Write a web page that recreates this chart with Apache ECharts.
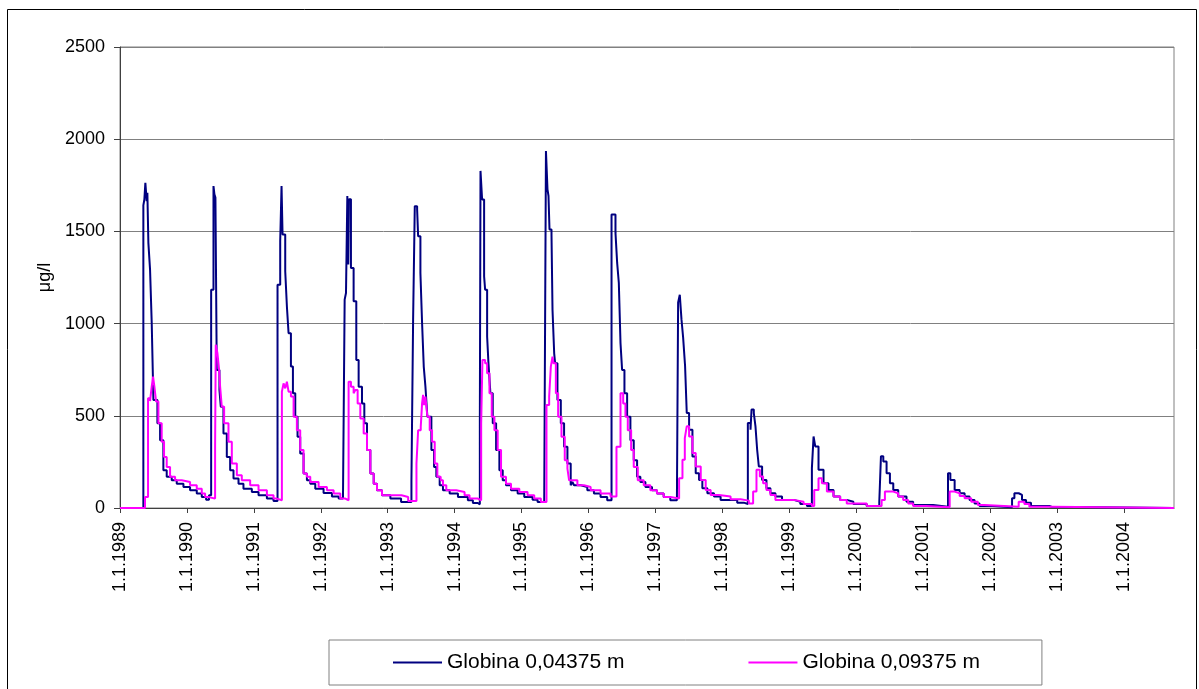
<!DOCTYPE html>
<html>
<head>
<meta charset="utf-8">
<script src="https://cdn.jsdelivr.net/npm/echarts@6/dist/echarts.min.js"></script>
<style>
html,body{margin:0;padding:0;background:#fff;}
#chart{width:1199px;height:689px;}
</style>
</head>
<body>
<div id="chart"></div>
<script>
// Decimal year, concentration (µg/l); each point = level starting at that date
const seriesNames = ['Globina 0,04375 m', 'Globina 0,09375 m'];
const yTicks = [0, 500, 1000, 1500, 2000, 2500];
const yearTicks = [1989,1990,1991,1992,1993,1994,1995,1996,1997,1998,1999,2000,2001,2002,2003,2004];

const depth04375 = [
[1989.000,0],[1989.349,1641],[1989.364,1673],[1989.379,1764],[1989.399,1664],[1989.409,1710],[1989.424,1438],[1989.449,1293],[1989.474,1003],[1989.499,586],[1989.559,459],[1989.599,368],[1989.648,205],[1989.698,169],[1989.773,150],[1989.848,132],[1989.948,114],[1990.047,96],[1990.147,78],[1990.222,60],[1990.287,45],[1990.330,69],
[1990.362,1184],[1990.397,1746],[1990.411,1701],[1990.426,1683],[1990.446,749],[1990.486,640],[1990.506,549],[1990.546,404],[1990.596,277],[1990.646,205],[1990.696,160],[1990.771,132],[1990.845,105],[1990.970,87],[1991.070,69],[1991.195,51],[1991.294,38],
[1991.354,1211],[1991.394,1447],[1991.414,1746],[1991.429,1483],[1991.469,1284],[1991.494,1093],[1991.519,948],[1991.554,767],[1991.584,622],[1991.619,495],[1991.653,386],[1991.693,296],[1991.743,187],[1991.793,150],[1991.843,132],[1991.918,105],[1992.042,82],[1992.167,63],[1992.267,51],[1992.332,42],
[1992.357,1130],[1992.377,1166],[1992.397,1692],[1992.411,1320],[1992.421,1674],[1992.451,1302],[1992.491,1121],[1992.531,803],[1992.566,658],[1992.616,567],[1992.651,459],[1992.691,314],[1992.741,187],[1992.791,132],[1992.840,96],[1992.915,69],[1993.040,51],[1993.200,33],
[1993.355,150],[1993.380,1021],[1993.405,1637],[1993.440,1619],[1993.455,1474],[1993.489,1275],[1993.514,1003],[1993.539,767],[1993.564,658],[1993.593,495],[1993.653,314],[1993.693,223],[1993.727,169],[1993.777,123],[1993.826,96],[1993.926,78],[1994.050,60],[1994.198,42],[1994.273,27],[1994.347,20],
[1994.377,459],[1994.387,1828],[1994.411,1673],[1994.441,1256],[1994.456,1184],[1994.486,930],[1994.506,785],[1994.535,622],[1994.570,459],[1994.620,314],[1994.669,205],[1994.719,150],[1994.768,123],[1994.843,96],[1994.942,78],[1995.041,60],[1995.165,45],[1995.240,33],[1995.339,24],
[1995.365,1936],[1995.388,1728],[1995.403,1692],[1995.418,1510],[1995.448,1480],[1995.463,1075],[1995.488,839],[1995.502,785],[1995.537,586],[1995.587,459],[1995.636,332],[1995.686,241],[1995.735,123],[1995.760,141],[1995.785,123],[1995.884,114],[1995.983,96],[1996.082,78],[1996.181,60],[1996.280,42],
[1996.345,1592],[1996.404,1492],[1996.429,1329],[1996.454,1220],[1996.479,894],[1996.503,749],[1996.538,622],[1996.578,495],[1996.627,368],[1996.677,259],[1996.727,169],[1996.776,141],[1996.851,114],[1996.950,96],[1997.024,78],[1997.124,60],[1997.223,42],[1997.322,36],
[1997.340,1114],[1997.365,1156],[1997.390,1024],[1997.415,924],[1997.444,770],[1997.469,515],[1997.504,425],[1997.554,279],[1997.603,189],[1997.653,152],[1997.702,107],[1997.777,80],[1997.876,62],[1997.975,44],[1998.223,29],[1998.322,22],
[1998.382,461],[1998.422,425],[1998.437,534],[1998.471,515],[1998.496,443],[1998.521,316],[1998.546,225],[1998.595,152],[1998.660,107],[1998.719,80],[1998.794,62],[1998.893,44],[1999.066,34],[1999.166,22],[1999.265,11],
[1999.339,216],[1999.364,388],[1999.389,334],[1999.438,207],[1999.513,134],[1999.587,98],[1999.662,62],[1999.761,44],[1999.860,34],[1999.959,22],[2000.158,11],
[2000.346,34],[2000.371,280],[2000.406,252],[2000.455,189],[2000.505,134],[2000.555,98],[2000.629,62],[2000.753,34],[2000.852,16],[2001.150,7],
[2001.373,189],[2001.408,152],[2001.472,98],[2001.547,80],[2001.621,62],[2001.695,44],[2001.770,25],[2001.844,11],[2002.043,4],
[2002.330,53],[2002.365,80],[2002.429,71],[2002.479,44],[2002.539,29],[2002.613,11],[2002.886,7],[2002.920,0],[2004.750,0]
];

const depth09375 = [
[1989.000,0],[1989.374,60],[1989.419,595],[1989.449,580],[1989.474,658],[1989.494,712],[1989.514,658],[1989.539,577],[1989.574,459],[1989.623,359],[1989.658,277],[1989.698,223],[1989.748,169],[1989.823,150],[1989.923,141],[1990.047,123],[1990.147,105],[1990.222,78],[1990.272,60],[1990.322,51],
[1990.421,332],[1990.431,885],[1990.456,839],[1990.481,749],[1990.496,658],[1990.521,549],[1990.556,459],[1990.621,359],[1990.671,241],[1990.746,178],[1990.820,150],[1990.945,123],[1991.070,96],[1991.195,69],[1991.294,51],[1991.344,42],
[1991.419,631],[1991.444,676],[1991.469,649],[1991.494,685],[1991.519,631],[1991.554,604],[1991.594,495],[1991.643,422],[1991.693,314],[1991.743,187],[1991.793,169],[1991.843,141],[1991.968,114],[1992.092,96],[1992.192,78],[1992.292,51],[1992.367,42],
[1992.416,685],[1992.451,658],[1992.491,622],[1992.516,640],[1992.551,567],[1992.591,486],[1992.641,404],[1992.691,314],[1992.741,187],[1992.791,132],[1992.840,96],[1992.915,69],[1993.207,60],[1993.306,38],
[1993.430,241],[1993.455,422],[1993.494,440],[1993.514,567],[1993.529,613],[1993.544,558],[1993.564,604],[1993.593,495],[1993.628,422],[1993.663,359],[1993.703,241],[1993.742,169],[1993.792,150],[1993.826,123],[1993.876,96],[1994.025,87],[1994.149,69],[1994.223,51],[1994.347,42],
[1994.397,459],[1994.416,803],[1994.456,785],[1994.486,731],[1994.521,622],[1994.555,495],[1994.595,422],[1994.644,314],[1994.694,169],[1994.768,132],[1994.843,105],[1994.967,87],[1995.090,69],[1995.190,51],[1995.289,33],
[1995.373,558],[1995.413,604],[1995.438,767],[1995.463,821],[1995.478,785],[1995.513,622],[1995.547,495],[1995.597,386],[1995.646,259],[1995.686,214],[1995.711,150],[1995.835,123],[1995.934,114],[1996.033,96],[1996.181,78],[1996.330,63],
[1996.419,332],[1996.479,622],[1996.519,567],[1996.553,495],[1996.588,422],[1996.638,314],[1996.677,223],[1996.737,150],[1996.826,123],[1996.925,96],[1997.024,78],[1997.124,60],[1997.223,51],
[1997.355,162],[1997.405,261],[1997.440,379],[1997.469,443],[1997.504,388],[1997.554,298],[1997.603,225],[1997.678,152],[1997.752,98],[1997.826,71],[1997.950,62],[1998.124,47],[1998.273,40],[1998.397,25],
[1998.461,89],[1998.511,207],[1998.561,171],[1998.610,134],[1998.660,98],[1998.719,71],[1998.794,44],[1999.066,34],[1999.215,22],[1999.339,11],
[1999.374,98],[1999.438,162],[1999.488,134],[1999.563,89],[1999.662,62],[1999.761,44],[1999.860,25],[2000.158,11],
[2000.381,44],[2000.430,89],[2000.555,80],[2000.629,62],[2000.703,44],[2000.778,25],[2000.852,11],[2001.051,4],
[2001.398,89],[2001.472,80],[2001.547,65],[2001.621,53],[2001.720,34],[2001.819,16],[2001.918,7],
[2002.429,34],[2002.514,22],[2002.588,7],[2002.935,0],[2004.750,0]
];

const FONT = "'Liberation Sans', Arial, sans-serif";
const chart = echarts.init(document.getElementById('chart'), null, {renderer: 'canvas'});
chart.setOption({
  animation: false,
  backgroundColor: '#ffffff',
  textStyle: {fontFamily: FONT, color: '#000'},
  graphic: [{
    type: 'rect', silent: true, z: -10,
    shape: {x: 7.5, y: 9.5, width: 1189, height: 700},
    style: {fill: 'none', stroke: '#000', lineWidth: 1}
  }],
  grid: {left: 120, right: 25, top: 47, bottom: 181, show: true, borderColor: '#808080', borderWidth: 1, backgroundColor: 'transparent'},
  legend: {
    data: seriesNames,
    icon: 'rect',
    left: 329, top: 640,
    padding: [12, 62, 12, 64],
    itemGap: 124, itemWidth: 49, itemHeight: 2,
    borderColor: '#808080', borderWidth: 1,
    backgroundColor: '#fff',
    textStyle: {fontSize: 21, fontFamily: FONT, color: '#000'}
  },
  xAxis: {
    type: 'value', min: yearTicks[0], max: 2004.75, interval: 1,
    axisLine: {lineStyle: {color: '#404040', width: 1}},
    axisTick: {show: true, length: 5, lineStyle: {color: '#404040'}},
    splitLine: {show: false},
    axisLabel: {
      rotate: 90, margin: 14, fontSize: 18, color: '#000', fontFamily: FONT,
      showMaxLabel: false,
      formatter: v => (yearTicks.indexOf(v) >= 0 ? '1.1.' + v : '')
    }
  },
  yAxis: {
    type: 'value', min: yTicks[0], max: yTicks[yTicks.length - 1], interval: 500,
    name: 'μg/l', nameLocation: 'middle', nameGap: 66,
    nameTextStyle: {fontSize: 18, fontFamily: FONT, color: '#000'},
    axisLine: {show: true, lineStyle: {color: '#404040', width: 1}},
    axisTick: {show: true, length: 6, lineStyle: {color: '#404040'}},
    splitLine: {lineStyle: {color: '#808080', width: 1}},
    axisLabel: {fontSize: 18, margin: 15, color: '#000', fontFamily: FONT, formatter: v => String(v)}
  },
  series: [
    {name: seriesNames[0], type: 'line', step: 'end', data: depth04375, symbol: 'none', showSymbol: false,
     lineStyle: {color: '#000080', width: 2}, itemStyle: {color: '#000080'}},
    {name: seriesNames[1], type: 'line', step: 'end', data: depth09375, symbol: 'none', showSymbol: false,
     lineStyle: {color: '#FF00FF', width: 2}, itemStyle: {color: '#FF00FF'}}
  ]
});
</script>
</body>
</html>
